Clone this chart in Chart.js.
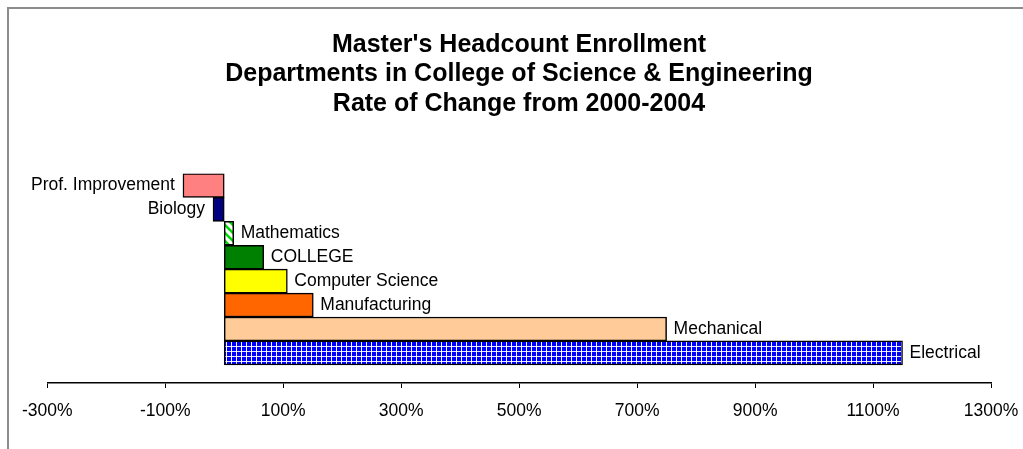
<!DOCTYPE html>
<html>
<head>
<meta charset="utf-8">
<script src="https://cdn.jsdelivr.net/npm/chart.js@4/dist/chart.umd.min.js"></script>
<style>
  html, body { margin: 0; padding: 0; background: #fff; overflow: hidden; }
  #frame {
    position: absolute; left: 7px; top: 7px;
    width: 1028px; height: 442px;
    border-top: 2px solid #8c8c8c; border-left: 2px solid #8c8c8c;
  }
  #graph { display: block; }
</style>
</head>
<body>
<div id="frame"><canvas id="graph" width="1028" height="440"></canvas></div>
<script>
const departments = ["Prof. Improvement", "Biology", "Mathematics", "COLLEGE",
  "Computer Science", "Manufacturing", "Mechanical", "Electrical"];
const changeRate = [-70, -19, 16, 67, 107, 151, 750, 1150];
const titleLines = ["Master's Headcount Enrollment",
  "Departments in College of Science & Engineering",
  "Rate of Change from 2000-2004"];
const tickMin = -300;
const tickMax = 1300;
const tickStep = 200;

// hatch fills like the original spreadsheet patterns
function stripePattern() {
  const c = document.createElement("canvas");
  c.width = 8; c.height = 8;
  const g = c.getContext("2d");
  g.fillStyle = "#fff";
  g.fillRect(0, 0, 8, 8);
  g.strokeStyle = "#00dd00";
  g.lineWidth = 2.5;
  g.beginPath();
  g.moveTo(-2, -2); g.lineTo(10, 10);
  g.moveTo(-6, 2); g.lineTo(2, 10);
  g.moveTo(6, -2); g.lineTo(14, 6);
  g.stroke();
  return g.createPattern(c, "repeat");
}

function gridPattern() {
  const c = document.createElement("canvas");
  c.width = 5; c.height = 5;
  const g = c.getContext("2d");
  g.fillStyle = "#0000ff";
  g.fillRect(0, 0, 5, 5);
  g.fillStyle = "#e4e4ff";
  g.fillRect(0, 2, 5, 1);
  g.fillStyle = "#ffffff";
  g.fillRect(2, 0, 1, 5);
  return g.createPattern(c, "repeat");
}

const ctx = document.getElementById("graph").getContext("2d");
const fills = ["#ff8080", "#000080", stripePattern(), "#008000",
  "#ffff00", "#ff6600", "#ffcc99", gridPattern()];

// department names written at the end of each bar
const barNames = {
  id: "barNames",
  afterDatasetsDraw(chart) {
    const c = chart.ctx;
    const meta = chart.getDatasetMeta(0);
    c.save();
    c.font = "17.5px 'Liberation Sans', Arial, sans-serif";
    c.fillStyle = "#000";
    c.textBaseline = "middle";
    meta.data.forEach((bar, i) => {
      const v = changeRate[i];
      if (v < 0) {
        c.textAlign = "right";
        c.fillText(departments[i], bar.x - 8, bar.y);
      } else {
        c.textAlign = "left";
        c.fillText(departments[i], bar.x + 7, bar.y);
      }
    });
    c.restore();
  }
};

new Chart(ctx, {
  type: "bar",
  data: {
    labels: departments,
    datasets: [{
      data: changeRate,
      backgroundColor: fills,
      borderColor: "#000",
      borderWidth: 1.5,
      borderSkipped: false,
      barPercentage: 1,
      categoryPercentage: 1
    }]
  },
  options: {
    indexAxis: "y",
    responsive: false,
    animation: false,
    layout: { padding: { left: 38, right: 46, top: 0, bottom: 14 } },
    plugins: {
      legend: { display: false },
      tooltip: { enabled: false },
      title: {
        display: true,
        text: titleLines,
        color: "#000",
        font: { family: "'Liberation Sans', Arial, sans-serif", size: 25, weight: "bold", lineHeight: 1.18 },
        padding: { top: 21, bottom: 55 }
      }
    },
    scales: {
      x: {
        min: tickMin,
        max: tickMax,
        ticks: {
          stepSize: tickStep,
          color: "#000",
          padding: 13,
          maxRotation: 0,
          font: { family: "'Liberation Sans', Arial, sans-serif", size: 17.5 },
          callback: v => v + "%"
        },
        grid: { drawOnChartArea: false, tickLength: 5, color: "#000" },
        border: { color: "#000", width: 1.5 }
      },
      y: {
        display: false,
        // leave some empty room between the last bar and the axis
        afterBuildTicks: s => { s._valueRange += 0.76; }
      }
    }
  },
  plugins: [barNames]
});
</script>
</body>
</html>
